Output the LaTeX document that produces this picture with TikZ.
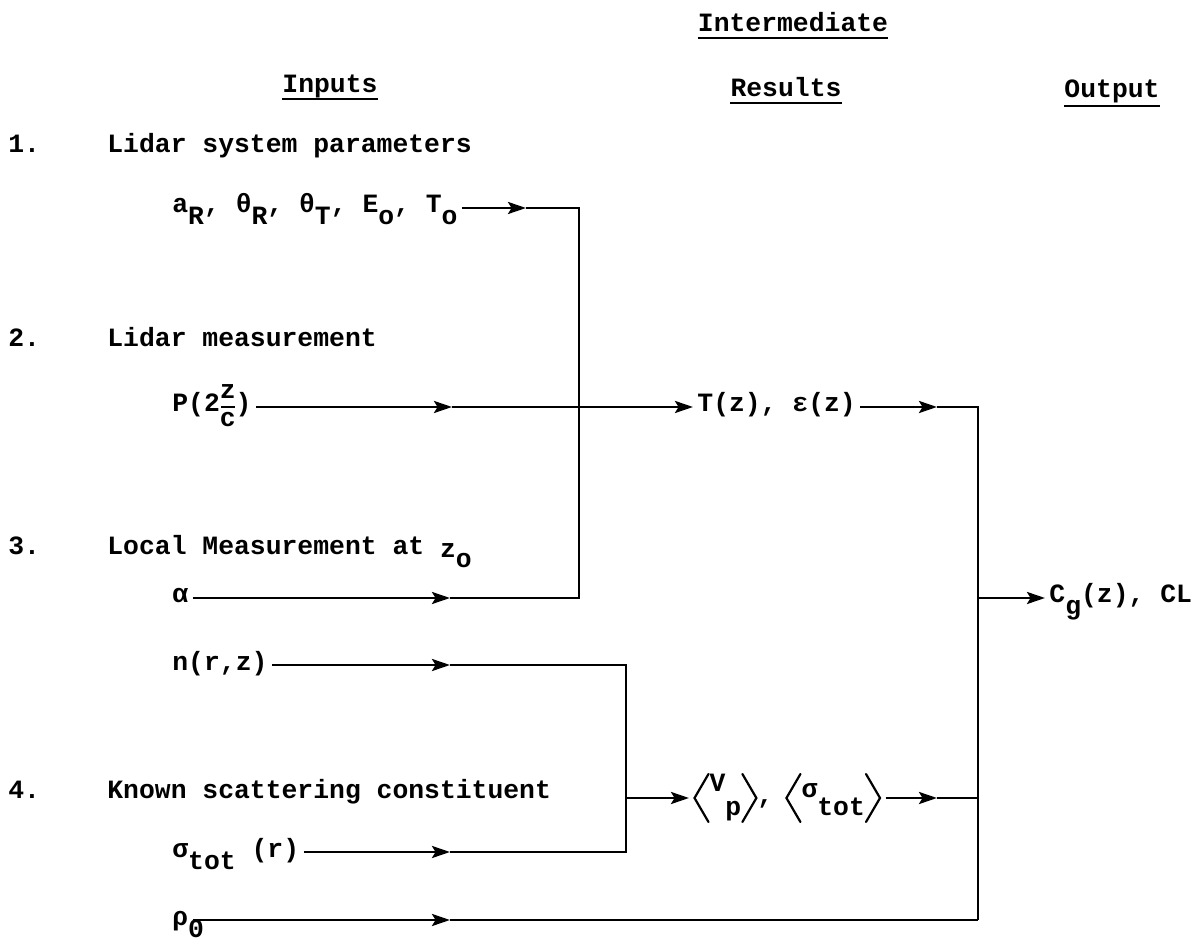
\documentclass[tikz,border=0pt]{standalone}
\usepackage{fontspec}
\setmainfont{Liberation Mono}
\usetikzlibrary{arrows.meta}
\newcommand\sbs[1]{\raisebox{-6pt}{#1}}
\newcommand\lang{\tikz[baseline={(0pt,-2.5pt)}]\draw[line width=1.1pt,line cap=round] (8.5pt,12pt)--(1.5pt,0pt)--(8.5pt,-12pt);}
\newcommand\rang{\tikz[baseline={(0pt,-2.5pt)}]\draw[line width=1.1pt,line cap=round] (1.5pt,12pt)--(8.5pt,0pt)--(1.5pt,-12pt);}
\newcommand\zovc{\makebox[7.9pt]{\raisebox{6.5pt}[0pt][0pt]{z}}\hspace{-7.9pt}\makebox[7.9pt]{\rule[2.1pt]{7pt}{0.8pt}}\hspace{-7.9pt}\makebox[7.9pt]{\raisebox{-7.5pt}[0pt][0pt]{c}}}
\begin{document}
\begin{tikzpicture}[x=0.5pt,y=-0.5pt,
  fnt/.style={font=\fontsize{13.2pt}{15pt}\selectfont\bfseries},
  txt/.style={fnt,inner sep=0pt,anchor=base west},
  hd/.style={fnt,inner sep=0pt,anchor=base},
  inp/.style={fnt,inner xsep=2pt,inner ysep=0pt,text height=5pt,text depth=0pt,anchor=west},
  ul/.style={line width=1.1pt},
  conn/.style={line width=1.4pt},
  arr/.style={conn,-{Stealth[length=9pt,width=6pt,inset=1.8pt]}}]
\useasboundingbox (0,0) rectangle (1198,945);
% headers
\node[hd] (hInt) at (793,32) {Intermediate};
\node[hd] (hIn) at (330,93) {Inputs};
\node[hd] (hRes) at (786,97) {Results};
\node[hd] (hOut) at (1112,98) {Output};
\draw[ul] ([yshift=-3pt]hInt.base west) -- ([yshift=-3pt]hInt.base east);
\draw[ul] ([yshift=-3pt]hIn.base west) -- ([yshift=-3pt]hIn.base east);
\draw[ul] ([yshift=-3pt]hRes.base west) -- ([yshift=-3pt]hRes.base east);
\draw[ul] ([yshift=-4pt]hOut.base west) -- ([yshift=-4pt]hOut.base east);
% items
\node[txt] (n1) at (8,153) {1.};
\node[txt] (t1) at (107,153) {Lidar system parameters};
\node[txt] (n2) at (8,347) {2.};
\node[txt] (t2) at (107,347) {Lidar measurement};
\node[txt] (n3) at (8,555) {3.};
\node[txt] (t3) at (107,555) {Local Measurement at \raisebox{-1.5pt}{z\raisebox{-4.5pt}{o}}};
\node[txt] (n4) at (8,798) {4.};
\node[txt] (t4) at (107,798) {Known scattering constituent};
% inputs
\node[inp] (pA) at (168,208) {a\sbs{R}, θ\sbs{R}, θ\sbs{T}, E\sbs{o}, T\sbs{o}};
\node[inp] (pP) at (168,407) {P(2\zovc)};
\node[inp] (pAl) at (168,598) {α};
\node[inp] (pN) at (168,665) {n(r,z)\hspace{4pt}};
\node[inp] (pS) at (168,852) {σ\sbs{tot} (r)};
\node[inp] (pR) at (168,920) {ρ\rlap{\sbs{0}}};
% intermediate and output
\node[inp] (tz) at (693,407) {T(z), ε(z)};
\node[inp] (vp) at (689,798) {\lang\raisebox{6pt}{V}\raisebox{-6pt}{p}\rang,\hspace{6pt}\lang\raisebox{3pt}{σ}\raisebox{-6pt}{tot}\rang};
\node[inp] (cg) at (1045,598) {C\sbs{g}(z), CL};
% junctions
\coordinate (aTip) at (526,208);
\coordinate (j1) at (579,208);
\coordinate (j2) at (579,598);
\coordinate (pTip) at (452,407);
\coordinate (alTip) at (450,598);
\coordinate (nTip) at (450,665);
\coordinate (j3) at (626,665);
\coordinate (j4) at (626,852);
\coordinate (j5) at (626,798);
\coordinate (sTip) at (450,852);
\coordinate (rTip) at (450,920);
\coordinate (j6) at (978,920);
\coordinate (tTip) at (937,407);
\coordinate (j7) at (978,407);
\coordinate (vTip) at (937,798);
\coordinate (j8) at (978,798);
\coordinate (j9) at (978,598);
% connectors
\draw[arr] (pA.east) -- (aTip);
\draw[conn] (aTip) -- (j1) -- (j2) -- (alTip);
\draw[arr] (pAl.east) -- (alTip);
\draw[arr] (pP.east) -- (pTip);
\draw[arr] (pTip) -- (tz.west);
\draw[arr] (tz.east) -- (tTip);
\draw[conn] (tTip) -- (j7) -- (j6);
\draw[arr] (pN.east) -- (nTip);
\draw[conn] (nTip) -- (j3) -- (j4) -- (sTip);
\draw[arr] (pS.east) -- (sTip);
\draw[arr] (j5) -- (vp.west);
\draw[arr] (vp.east) -- (vTip);
\draw[conn] (vTip) -- (j8);
\draw[arr] (pR.east) -- (rTip);
\draw[conn] (rTip) -- (j6);
\draw[arr] (j9) -- (cg.west);
\end{tikzpicture}
\end{document}
